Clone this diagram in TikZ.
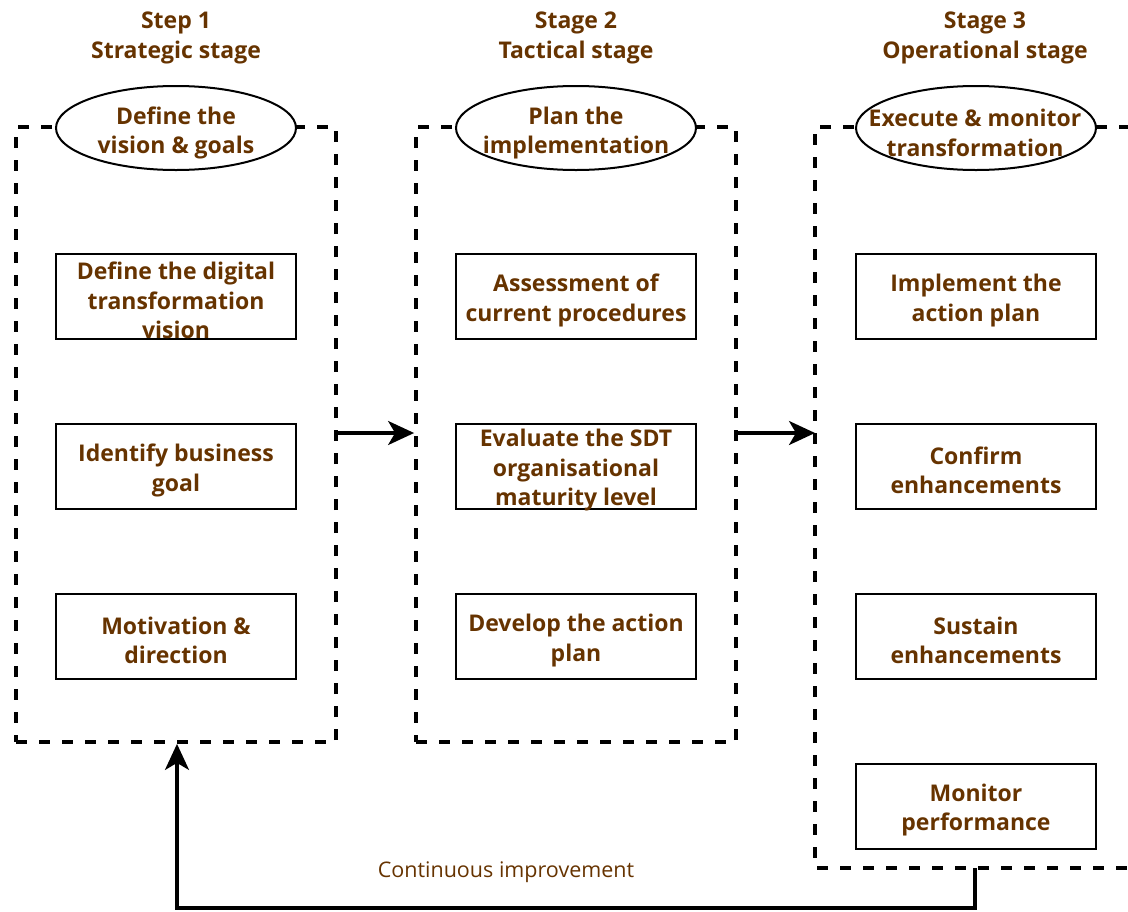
\documentclass[tikz,border=0pt]{standalone}
\usepackage{fontspec}
\setmainfont{Open Sans}
\usetikzlibrary{arrows.meta,shapes.geometric}
\definecolor{txtbrown}{HTML}{663300}
\tikzset{
  lbl/.style={text=txtbrown, font=\fontsize{23}{29.5}\selectfont\bfseries, align=center},
  stagebox/.style={draw=black, line width=2pt, minimum width=240pt, minimum height=85pt, inner sep=0pt, lbl},
  goal/.style={ellipse, draw=black, line width=2pt, fill=white, minimum width=240pt, minimum height=84pt, inner sep=0pt},
  container/.style={draw=black, line width=3.8pt, dash pattern=on 11pt off 12pt},
  flow/.style={draw=black, line width=3.2pt, -{Stealth[length=26pt,width=24pt,inset=7pt]}},
  title/.style={lbl}
}
\begin{document}
\begin{tikzpicture}[x=1pt,y=-1pt]
\useasboundingbox (0,0) rectangle (1128,911);
% containers
\node[container, minimum width=320pt, minimum height=615pt, inner sep=0pt] (c1) at (176,434.5) {};
\node[container, minimum width=320pt, minimum height=615pt, inner sep=0pt] (c2) at (576,434.5) {};
\coordinate (c3tr) at (1130,127);
\coordinate (c3tl) at (815,127);
\coordinate (c3bl) at (815,868);
\coordinate (c3br) at (1130,868);
\draw[container] (c3tr) -- (c3tl) -- (c3bl) -- (c3br);
\coordinate (c3w) at (815,433);
\coordinate (c3b) at (975,868);
% titles
\node[title] (t1) at (176,38) {Step 1\\Strategic stage};
\node[title] (t2) at (576,38) {Stage 2\\Tactical stage};
\node[title] (t3) at (985,38) {Stage 3\\Operational stage};
% ellipses
\node[goal] (g1) at (176,128) {};
\node[lbl] (g1t) at (176,133) {Define the\\vision \& goals};
\node[goal] (g2) at (576,128) {};
\node[lbl] (g2t) at (576,133) {Plan the\\implementation};
\node[goal] (g3) at (976,128) {};
\node[lbl] (g3t) at (975,133) {Execute \& monitor\\transformation};
% boxes
\node[stagebox] (a1) at (176,296.5) {};
\node[lbl] (a1t) at (a1.center) [yshift=-4pt] {Define the digital\\transformation\\vision};
\node[stagebox] (a2) at (176,466.5) {};
\node[lbl] (a2t) at (a2.center) [yshift=-4pt] {Identify business\\goal};
\node[stagebox] (a3) at (176,636.5) {};
\node[lbl] (a3t) at (a3.center) [yshift=-4pt] {Motivation \&\\direction};
\node[stagebox] (b1) at (576,296.5) {};
\node[lbl] (b1t) at (b1.center) [yshift=-4pt] {Assessment of\\current procedures};
\node[stagebox] (b2) at (576,466.5) {};
\node[lbl] (b2t) at (b2.center) [yshift=-4pt] {Evaluate the SDT\\organisational\\maturity level};
\node[stagebox] (b3) at (576,636.5) {};
\node[lbl] (b3t) at (b3.center) [yshift=-4pt] {Develop the action\\plan};
\node[stagebox] (d1) at (976,296.5) {};
\node[lbl] (d1t) at (d1.center) [yshift=-4pt] {Implement the\\action plan};
\node[stagebox] (d2) at (976,466.5) {};
\node[lbl] (d2t) at (d2.center) [yshift=-4pt] {Confirm\\enhancements};
\node[stagebox] (d3) at (976,636.5) {};
\node[lbl] (d3t) at (d3.center) [yshift=-4pt] {Sustain\\enhancements};
\node[stagebox] (d4) at (976,806) {};
\node[lbl] (d4t) at (d4.center) [yshift=-4pt] {Monitor\\performance};
% connectors
\draw[flow] (c1.east |- 0,433) -- (c2.west |- 0,433);
\draw[flow] (c2.east |- 0,433) -- (c3w);
\coordinate (fb1) at (975,908);
\coordinate (fb2) at (177,908);
\draw[flow] (c3b) -- (fb1) -- (fb2) -- (c1.south -| fb2);
\node[text=txtbrown, font=\fontsize{21.5}{24}\selectfont] (ci) at (506,872) {Continuous improvement};
\end{tikzpicture}
\end{document}
